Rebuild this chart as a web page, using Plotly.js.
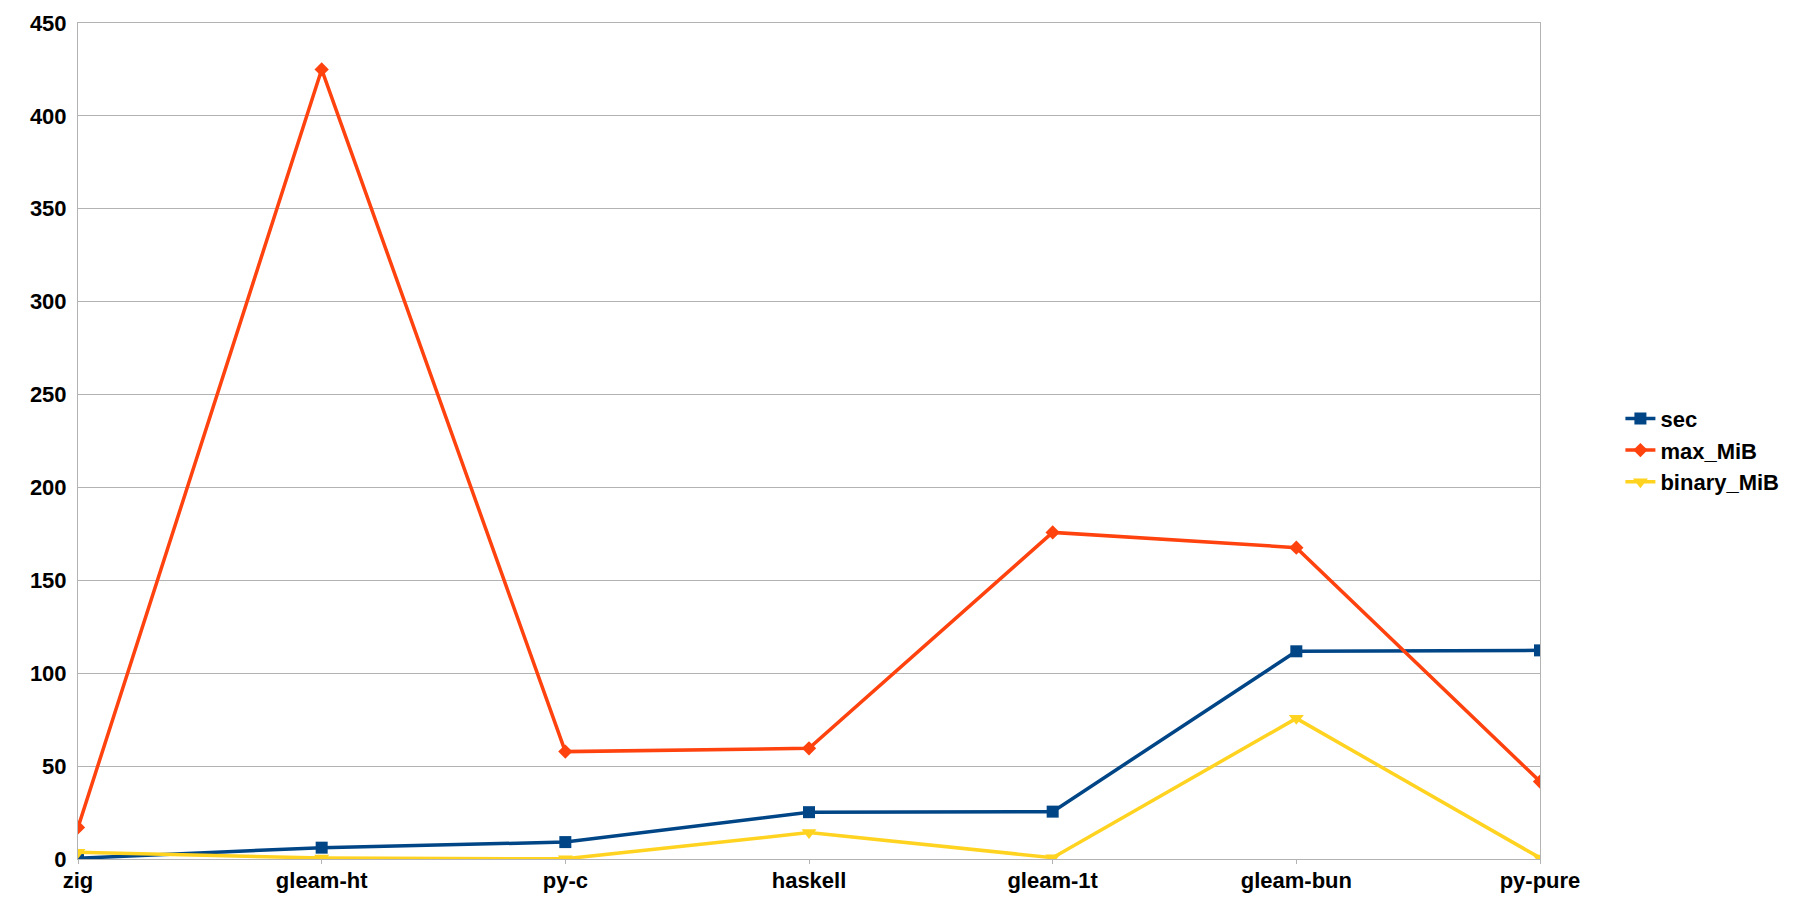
<!DOCTYPE html>
<html>
<head>
<meta charset="utf-8">
<script src="https://cdn.plot.ly/plotly-3.0.1.min.js"></script>
<style>
  html, body { margin: 0; padding: 0; background: #fff; }
  #chart { width: 1796px; height: 910px; }
</style>
</head>
<body>
<div id="chart"></div>
<script>
// chart data
var categories = ['zig', 'gleam-ht', 'py-c', 'haskell', 'gleam-1t', 'gleam-bun', 'py-pure'];
var sec = [0.4, 6.1, 9.1, 25.2, 25.5, 111.8, 112.3];
var maxMiB = [17, 425, 57.8, 59.6, 175.8, 167.6, 41.7];
var binaryMiB = [3.7, 0.5, 0.1, 14.2, 0.7, 75.7, 0.6];
var yTicks = [0, 50, 100, 150, 200, 250, 300, 350, 400, 450];

var boldFont = { family: 'Liberation Sans, Arial, sans-serif', size: 22, color: '#000', weight: 'bold' };
var gray = '#b3b3b3';

function series(name, values, color, symbol, size) {
  return {
    x: categories,
    y: values,
    name: name,
    type: 'scatter',
    mode: 'lines+markers',
    line: { color: color, width: 3.5 },
    marker: { color: color, symbol: symbol, size: size }
  };
}

var traces = [
  series('sec', sec, '#004586', 'square', 12),
  series('max_MiB', maxMiB, '#ff420e', 'diamond', 11),
  series('binary_MiB', binaryMiB, '#ffd320', 'triangle-down', 13)
];

var layout = {
  width: 1796,
  height: 910,
  margin: { l: 78, r: 253, t: 23, b: 51 },
  paper_bgcolor: '#fff',
  plot_bgcolor: '#fff',
  font: boldFont,
  showlegend: true,
  legend: {
    x: 1.055, xanchor: 'left',
    y: 0.489, yanchor: 'middle',
    font: boldFont,
    bgcolor: 'rgba(0,0,0,0)',
    borderwidth: 0
  },
  xaxis: {
    type: 'category',
    range: [0, categories.length - 1],
    showgrid: false,
    showline: true,
    linecolor: gray,
    linewidth: 1,
    mirror: true,
    ticks: 'outside',
    ticklen: 4,
    tickcolor: gray,
    ticklabelstandoff: -2,
    tickfont: boldFont,
    zeroline: false
  },
  yaxis: {
    range: [0, 450],
    tickvals: yTicks,
    showgrid: true,
    gridcolor: gray,
    gridwidth: 1,
    showline: true,
    linecolor: gray,
    linewidth: 1,
    mirror: true,
    ticks: '',
    ticklabelstandoff: 6,
    tickfont: boldFont,
    zeroline: false
  }
};

Plotly.newPlot('chart', traces, layout, { displayModeBar: false, staticPlot: true });
</script>
</body>
</html>
